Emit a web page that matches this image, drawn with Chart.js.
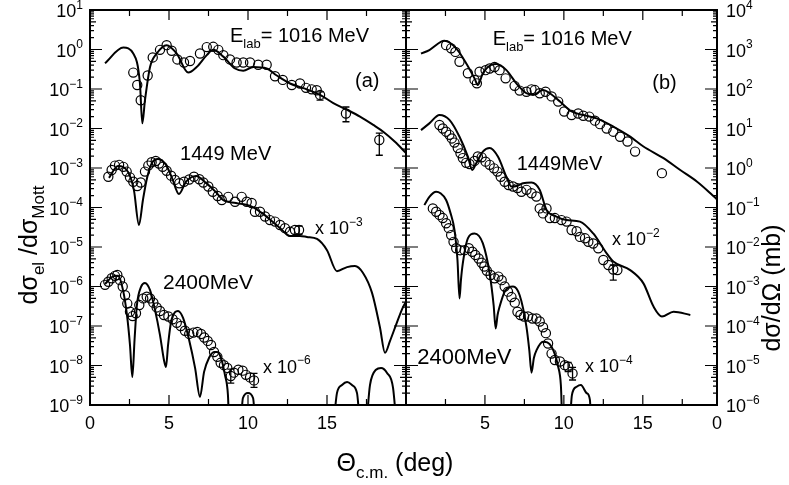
<!DOCTYPE html>
<html>
<head>
<meta charset="utf-8">
<script src="https://cdn.jsdelivr.net/npm/chart.js@4.4.1/dist/chart.umd.min.js"></script>
<style>
  html, body { margin: 0; padding: 0; background: #fff; }
  #wrap { position: relative; width: 789px; height: 485px; }
  #wrap canvas { position: absolute; left: 0; top: 0; }
</style>
</head>
<body>
<div id="wrap">
  <canvas id="chartA" width="789" height="485"></canvas>
  <canvas id="chartB" width="789" height="485"></canvas>
</div>
<script>
// ---- panel (a): dsigma_el / dsigma_Mott ----
const thetaA1016c = [0.95, 2.11, 2.74, 3.16, 3.31, 3.48, 3.8, 4.22, 4.85, 5.49, 6.22, 6.75, 7.39, 7.8, 8.44, 9.18, 9.7, 10.34, 11.18, 11.82, 12.66, 13.5, 14.56, 15.4, 16.25, 17.09, 17.93, 18.56, 19.3, 20];
const curveA1016 = [0.45, 1.12, 0.79, 0.14, 0.0135, 0.052, 0.36, 0.79, 1.29, 0.79, 0.26, 0.36, 0.72, 0.98, 0.66, 0.33, 0.29, 0.36, 0.33, 0.22, 0.138, 0.105, 0.071, 0.044, 0.03, 0.02, 0.0123, 0.0083, 0.0046, 0.0024];
const thetaA1016d = [2.74, 2.99, 3.21, 3.65, 3.97, 4.43, 4.85, 5.17, 5.53, 5.95, 6.33, 6.96, 7.39, 7.8, 8.12, 8.44, 8.86, 9.28, 9.7, 10.13, 10.65, 11.18, 11.71, 12.2, 12.77, 13.29, 13.67, 14.03, 14.35, 14.56, 16.2, 18.31];
const dataA1016 = [0.26, 0.126, 0.052, 0.22, 0.63, 0.98, 1.29, 0.93, 0.56, 0.47, 0.51, 0.79, 1.15, 1.17, 0.98, 0.72, 0.56, 0.47, 0.47, 0.47, 0.41, 0.41, 0.21, 0.17, 0.126, 0.138, 0.107, 0.098, 0.093, 0.071, 0.024, 0.0051];

const thetaA1449c = [1.2, 1.77, 2.41, 2.78, 3.1, 3.35, 3.61, 3.92, 4.3, 4.81, 5.19, 5.63, 6.08, 6.71, 7.34, 7.97, 8.42, 9.24, 10.13, 10.89, 11.58, 12.15, 12.66, 13.29, 13.73, 14.37, 15.0, 15.63, 16.27, 16.77, 17.28, 17.85, 18.35, 18.67, 18.99, 19.37, 19.81, 20];
const curveA1449 = [5.6e-4, 1.12e-3, 7.9e-4, 2.75e-4, 3.6e-5, 1.55e-4, 5.6e-4, 1.35e-3, 1.7e-3, 1.2e-3, 5.6e-4, 2.2e-4, 4.5e-4, 6.3e-4, 4.2e-4, 2.45e-4, 1.55e-4, 1.3e-4, 1.1e-4, 7.2e-5, 4.3e-5, 2.7e-5, 1.9e-5, 1.9e-5, 1.8e-5, 1.6e-5, 8.3e-6, 2.45e-6, 3.1e-6, 3.3e-6, 2.2e-6, 6.9e-7, 9.3e-8, 2.1e-8, 4.2e-8, 1.07e-7, 3.0e-7, 4.1e-7];
const thetaA1449d = [1.16, 1.37, 1.58, 1.84, 2.11, 2.32, 2.53, 2.74, 2.99, 3.21, 3.48, 3.69, 3.9, 4.16, 4.37, 4.6, 4.85, 5.13, 5.38, 5.65, 5.95, 6.28, 6.58, 6.92, 7.17, 7.49, 7.77, 8.08, 8.34, 8.75, 9.18, 9.6, 9.92, 10.23, 10.44, 10.76, 11.08, 11.39, 11.71, 12.03, 12.34, 12.66, 12.97, 13.23];
const dataA1449 = [6.0e-4, 8.9e-4, 1.15e-3, 1.2e-3, 1.07e-3, 8.1e-4, 5.8e-4, 4.5e-4, 3.5e-4, 4.3e-4, 8.1e-4, 1.15e-3, 1.4e-3, 1.5e-3, 1.3e-3, 1.07e-3, 8.5e-4, 6.4e-4, 5.0e-4, 4.1e-4, 4.5e-4, 5.1e-4, 6.0e-4, 5.2e-4, 4.3e-4, 3.4e-4, 2.5e-4, 1.95e-4, 1.55e-4, 1.86e-4, 1.4e-4, 1.86e-4, 1.4e-4, 1.3e-4, 7.8e-5, 7.8e-5, 5.9e-5, 4.8e-5, 4.4e-5, 3.6e-5, 3.0e-5, 2.45e-5, 2.7e-5, 2.7e-5];

const thetaA2400c = [0.95, 1.39, 1.77, 2.09, 2.34, 2.53, 2.68, 2.82, 2.97, 3.23, 3.48, 3.8, 4.11, 4.43, 4.68, 4.81, 4.94, 5.13, 5.38, 5.57, 5.89, 6.27, 6.65, 6.96, 7.22, 7.53, 7.85, 8.04, 8.29, 8.54, 8.73, 8.86, 9.43, 9.68, 10.0, 10.32, 10.57, 15.25, 15.63, 15.95, 16.27, 16.58, 16.9, 17.22, 17.34, 17.72, 18.1, 18.42, 18.8, 19.18, 19.49];
const curveA2400 = [1.15e-6, 1.74e-6, 1.86e-6, 8.1e-7, 1.9e-7, 3.3e-8, 5.1e-9, 4.5e-8, 3.4e-7, 9.8e-7, 1.23e-6, 8.1e-7, 2.6e-7, 5.9e-8, 1.38e-8, 9.1e-9, 3.3e-8, 1.26e-7, 2.24e-7, 2.4e-7, 1.6e-7, 4.5e-8, 8.7e-9, 1.6e-9, 6.9e-9, 1.55e-8, 2.2e-8, 2.2e-8, 1.55e-8, 5.8e-9, 1.8e-9, 1e-10, 1e-10, 1.5e-9, 2.0e-9, 1.5e-9, 1e-10, 1e-10, 2.0e-9, 3.2e-9, 3.8e-9, 3.2e-9, 2.0e-9, 1e-10, 1e-10, 3.2e-9, 7.8e-9, 8.7e-9, 6.5e-9, 2.7e-9, 1e-10];
const thetaA2400d = [0.95, 1.16, 1.37, 1.58, 1.73, 1.9, 2.07, 2.22, 2.36, 2.53, 2.7, 2.91, 3.12, 3.37, 3.59, 3.8, 4.01, 4.22, 4.43, 4.68, 4.96, 5.23, 5.49, 5.74, 6.01, 6.28, 6.54, 6.79, 7.03, 7.23, 7.45, 7.66, 7.85, 8.06, 8.27, 8.48, 8.69, 8.91, 9.11, 9.39, 9.66, 9.87, 10.13, 10.38];
const dataA2400 = [1.1e-6, 1.32e-6, 1.62e-6, 1.86e-6, 1.95e-6, 1.45e-6, 1.0e-6, 6.0e-7, 3.7e-7, 2.3e-7, 1.78e-7, 2.1e-7, 3.4e-7, 5.0e-7, 5.5e-7, 5.0e-7, 3.9e-7, 2.95e-7, 2.4e-7, 1.9e-7, 1.74e-7, 1.48e-7, 1.2e-7, 1.0e-7, 7.6e-8, 6.3e-8, 6.8e-8, 7.1e-8, 6.3e-8, 5.1e-8, 4.2e-8, 3.3e-8, 2.2e-8, 1.66e-8, 1.17e-8, 1.02e-8, 8.7e-9, 5.4e-9, 6.6e-9, 7.8e-9, 7.4e-9, 5.8e-9, 5.0e-9, 4.2e-9];

// error bars of panel (a)
const errThetaA = [14.56, 16.2, 18.31, 13.23, 8.91, 10.38];
const errLoA = [0.052, 0.0148, 0.0021, 2.1e-5, 3.6e-9, 2.8e-9];
const errHiA = [0.085, 0.035, 0.0076, 3.4e-5, 8.1e-9, 6.3e-9];

// ---- panel (b): dsigma/dOmega (mb) ----
const thetaB1016c = [0.95, 1.48, 2.23, 2.43, 3.18, 3.81, 4.34, 4.55, 4.87, 5.4, 5.72, 6.36, 6.99, 7.63, 8.05, 8.68, 9.11, 9.75, 10.49, 11.23, 12.08, 13.13, 14.2, 15.04, 16.31, 17.37, 18.44, 19.28, 19.7];
const curveB1016 = [790, 970, 1580, 1660, 1070, 450, 186, 126, 250, 410, 430, 300, 139, 78, 71, 94, 78, 48, 27, 22, 18, 11.2, 6.2, 3.5, 1.78, 0.89, 0.45, 0.23, 0.16];
const thetaB1016d = [2.54, 2.86, 3.13, 3.39, 3.92, 4.34, 4.49, 4.66, 5.04, 5.3, 5.61, 5.93, 6.31, 6.88, 7.2, 7.63, 7.95, 8.16, 8.47, 8.84, 9.22, 9.64, 10.02, 10.49, 10.91, 11.23, 11.61, 11.97, 12.29, 12.71, 13.13, 13.56, 14.03, 14.51, 16.21];
const dataB1016 = [1290, 1070, 870, 490, 250, 170, 139, 275, 300, 330, 360, 300, 186, 120, 91, 85, 98, 94, 78, 85, 65, 48, 27, 22, 24, 21, 20, 15.8, 12.9, 10, 8.3, 6.2, 4.7, 2.6, 0.74];

const thetaB1449c = [0.95, 1.48, 2.12, 2.75, 3.39, 3.92, 4.2, 4.45, 4.87, 5.3, 5.82, 6.36, 6.68, 7.01, 7.41, 7.95, 8.47, 8.9, 9.49, 10.17, 11.02, 11.86, 12.71, 13.13, 14.2, 15.04, 15.68, 16.21, 16.95, 18.01];
const curveB1449 = [9.1, 13.5, 22, 16.6, 6.2, 1.95, 0.89, 1.32, 2.6, 3.2, 1.95, 0.6, 0.34, 0.35, 0.41, 0.43, 0.28, 0.087, 0.06, 0.048, 0.044, 0.022, 0.0069, 0.0043, 0.0026, 0.0012, 3.1e-4, 1.74e-4, 2.3e-4, 1.9e-4];
const thetaB1449d = [2.12, 2.33, 2.54, 2.75, 2.9, 3.07, 3.28, 3.45, 3.6, 3.81, 4.02, 4.34, 4.55, 4.79, 5.04, 5.3, 5.57, 5.79, 6.0, 6.25, 6.5, 6.78, 7.06, 7.31, 7.63, 7.95, 8.26, 8.47, 8.68, 8.9, 9.11, 9.43, 9.85, 10.17, 10.49, 10.81, 11.02, 11.34, 11.55, 11.86, 12.18, 12.5, 12.82, 13.13, 13.39];
const dataB1449 = [12.3, 10, 8.3, 6.9, 5.6, 4.4, 3.2, 2.35, 1.78, 1.35, 1.26, 1.51, 1.95, 1.86, 1.45, 1.2, 0.98, 0.81, 0.6, 0.45, 0.37, 0.34, 0.31, 0.25, 0.28, 0.23, 0.19, 0.095, 0.071, 0.095, 0.054, 0.054, 0.048, 0.044, 0.027, 0.025, 0.018, 0.0166, 0.0135, 0.0123, 0.0093, 0.0047, 0.0035, 0.0027, 0.0026];

const thetaB2400c = [1.16, 1.48, 1.91, 2.18, 2.54, 2.82, 3.07, 3.26, 3.39, 3.48, 3.6, 3.92, 4.34, 4.87, 5.3, 5.55, 5.68, 5.8, 5.93, 6.25, 6.78, 7.2, 7.63, 7.81, 7.95, 8.1, 8.27, 8.68, 9.22, 9.64, 9.81, 9.96, 10.27, 10.51, 10.81, 11.08, 11.44, 11.65, 11.76];
const curveB2400 = [0.115, 0.186, 0.25, 0.23, 0.155, 0.072, 0.027, 0.0047, 5.0e-4, 0.00145, 0.0039, 0.0166, 0.022, 0.0123, 0.0021, 3.4e-4, 8.7e-5, 1.9e-4, 3.1e-4, 7.4e-4, 0.001, 6.0e-4, 9.5e-5, 2.45e-5, 6.6e-6, 1.55e-5, 2.45e-5, 4.0e-5, 3.0e-5, 9.3e-6, 3.2e-6, 1e-7, 1e-7, 1.78e-6, 2.9e-6, 3.2e-6, 2.0e-6, 1.35e-6, 1e-7];
const thetaB2400d = [1.7, 1.91, 2.12, 2.33, 2.54, 2.71, 2.86, 3.01, 3.18, 3.43, 3.71, 3.98, 4.2, 4.39, 4.6, 4.79, 4.96, 5.12, 5.36, 5.61, 5.85, 6.06, 6.25, 6.46, 6.68, 6.89, 7.06, 7.25, 7.48, 7.73, 8.01, 8.26, 8.47, 8.68, 8.86, 9.0, 9.22, 9.43, 9.75, 10.06, 10.27, 10.55];
const dataB2400 = [0.095, 0.078, 0.065, 0.054, 0.04, 0.03, 0.02, 0.0135, 0.0093, 0.0083, 0.0083, 0.0093, 0.0076, 0.0063, 0.0051, 0.004, 0.0032, 0.0025, 0.00195, 0.00162, 0.00178, 0.00145, 0.001, 7.4e-4, 5.4e-4, 3.9e-4, 2.3e-4, 1.9e-4, 1.74e-4, 1.74e-4, 1.55e-4, 1.55e-4, 1.3e-4, 9.3e-5, 6.6e-5, 3.6e-5, 2.0e-5, 1.38e-5, 1.26e-5, 1.02e-5, 9.3e-6, 6.3e-6];

const errThetaB = [13.13, 10.27, 10.55];
const errLoB = [0.00145, 7.0e-6, 4.3e-6];
const errHiB = [0.0035, 1.2e-5, 9.0e-6];

// axis tick labels
const yExpA = [1, 0, -1, -2, -3, -4, -5, -6, -7, -8, -9];
const yExpB = [4, 3, 2, 1, 0, -1, -2, -3, -4, -5, -6];
const xTickValsA = [0, 5, 10, 15];
const xTickTextA = ['0', '5', '10', '15'];
const xTickValsB = [5, 10, 15, 19.7];
const xTickTextB = ['5', '10', '15', '0'];

const FONT = '"Liberation Sans", Arial, sans-serif';

// draws text pieces with sub/superscripts; parts = [[text, ''|'sup'|'sub'], ...]
function drawRich(ctx, parts, x, y, size, align) {
    const small = Math.round(size * 0.66);
    let w = 0;
    parts.forEach(p => {
        ctx.font = (p[1] ? small : size) + 'px ' + FONT;
        w += ctx.measureText(p[0]).width;
    });
    let cx = align === 'right' ? x - w : (align === 'center' ? x - w / 2 : x);
    ctx.textAlign = 'left';
    ctx.textBaseline = 'alphabetic';
    parts.forEach(p => {
        ctx.font = (p[1] ? small : size) + 'px ' + FONT;
        const dy = p[1] === 'sup' ? -size * 0.45 : (p[1] === 'sub' ? size * 0.28 : 0);
        ctx.fillText(p[0], cx, y + dy);
        cx += ctx.measureText(p[0]).width;
    });
}

function expText(e) { return e < 0 ? '\u2212' + Math.abs(e) : String(e); }

const panelFrame = {
    id: 'panelFrame',
    beforeDatasetsDraw(chart, args, opts) {
        // error bars
        const { ctx, scales: { x, y } } = chart;
        ctx.save();
        ctx.strokeStyle = '#000';
        ctx.lineWidth = 1.3;
        ctx.beginPath();
        opts.errTheta.forEach((t, i) => {
            const px = x.getPixelForValue(t);
            const lo = y.getPixelForValue(opts.errLo[i]);
            const hi = y.getPixelForValue(opts.errHi[i]);
            ctx.moveTo(px, hi); ctx.lineTo(px, lo);
            ctx.moveTo(px - 3.5, hi); ctx.lineTo(px + 3.5, hi);
            ctx.moveTo(px - 3.5, lo); ctx.lineTo(px + 3.5, lo);
        });
        ctx.stroke();
        ctx.restore();
    },
    afterDatasetsDraw(chart, args, opts) {
        const { ctx, chartArea: a, scales: { x, y } } = chart;
        ctx.save();
        ctx.strokeStyle = '#000';
        ctx.lineWidth = 2;
        ctx.strokeRect(a.left, a.top, a.right - a.left, a.bottom - a.top);

        // log ticks on both vertical sides, pointing inwards
        ctx.lineWidth = 1.2;
        ctx.beginPath();
        const e0 = Math.round(Math.log10(y.min)), e1 = Math.round(Math.log10(y.max));
        for (let e = e0; e <= e1; e++) {
            for (let m = 1; m < 10; m++) {
                const v = m * Math.pow(10, e);
                if (v > y.max * 1.001) break;
                const py = y.getPixelForValue(v);
                const len = m === 1 ? 12 : (m === 5 ? 6 : 4);
                ctx.moveTo(a.left, py); ctx.lineTo(a.left + len, py);
                ctx.moveTo(a.right, py); ctx.lineTo(a.right - len, py);
            }
        }
        for (let t = 2.5; t < x.max - 0.1; t += 2.5) {
            const px = x.getPixelForValue(t);
            const len = t % 5 === 0 ? 10 : 6;
            ctx.moveTo(px, a.bottom); ctx.lineTo(px, a.bottom - len);
            ctx.moveTo(px, a.top); ctx.lineTo(px, a.top + len);
        }
        ctx.stroke();

        // tick labels
        ctx.fillStyle = '#000';
        opts.yExp.forEach(e => {
            const py = y.getPixelForValue(Math.pow(10, e));
            if (opts.side === 'left') {
                drawRich(ctx, [['10', ''], [expText(e), 'sup']], a.left - 7, py + 7, 18, 'right');
            } else {
                drawRich(ctx, [['10', ''], [expText(e), 'sup']], a.right + 9, py + 7, 18, 'left');
            }
        });
        opts.xVals.forEach((v, i) => {
            drawRich(ctx, [[opts.xText[i], '']], x.getPixelForValue(v), a.bottom + 24, 18, 'center');
        });

        // annotations placed in data coordinates
        opts.notes.forEach(n => {
            drawRich(ctx, n.parts, x.getPixelForValue(n.x), y.getPixelForValue(n.y) + 7, n.size, 'left');
        });

        // axis titles
        (opts.titles || []).forEach(tt => {
            ctx.save();
            ctx.translate(tt.cx, tt.cy);
            if (tt.rot) ctx.rotate(-Math.PI / 2);
            drawRich(ctx, tt.parts, 0, 9, tt.size, 'center');
            ctx.restore();
        });
        ctx.restore();
    }
};

function curve(th, vals) {
    return {
        type: 'line',
        data: th.map((t, i) => ({ x: t, y: vals[i] })),
        borderColor: '#000',
        borderWidth: 2,
        pointRadius: 0,
        fill: false,
        showLine: true,
        cubicInterpolationMode: 'monotone',
        clip: 0
    };
}

function points(th, vals) {
    return {
        type: 'scatter',
        data: th.map((t, i) => ({ x: t, y: vals[i] })),
        pointStyle: 'circle',
        pointRadius: 4.6,
        borderColor: '#000',
        borderWidth: 1.2,
        backgroundColor: 'rgba(0,0,0,0)',
        showLine: false
    };
}

function panelOptions(xMax, yMin, yMax, pad, frame) {
    return {
        responsive: false,
        animation: false,
        devicePixelRatio: 1,
        layout: { padding: pad },
        plugins: { legend: { display: false }, tooltip: { enabled: false }, panelFrame: frame },
        scales: {
            x: { type: 'linear', min: 0, max: xMax, display: false },
            y: { type: 'logarithmic', min: yMin, max: yMax, display: false }
        }
    };
}

new Chart(document.getElementById('chartA'), {
    type: 'scatter',
    data: {
        datasets: [
            curve(thetaA1016c, curveA1016), points(thetaA1016d, dataA1016),
            curve(thetaA1449c, curveA1449), points(thetaA1449d, dataA1449),
            curve(thetaA2400c, curveA2400), points(thetaA2400d, dataA2400)
        ]
    },
    options: panelOptions(20, 1e-9, 10, { left: 90, right: 383, top: 10, bottom: 80 }, {
        side: 'left', yExp: yExpA, xVals: xTickValsA, xText: xTickTextA,
        errTheta: errThetaA, errLo: errLoA, errHi: errHiA,
        notes: [
            { x: 8.86, y: 2.3, size: 20, parts: [['E', ''], ['lab', 'sub'], ['= 1016 MeV', '']] },
            { x: 16.77, y: 0.17, size: 20, parts: [['(a)', '']] },
            { x: 5.7, y: 2.4e-3, size: 20, parts: [['1449 MeV', '']] },
            { x: 14.24, y: 3.2e-5, size: 18, parts: [['x 10', ''], ['\u22123', 'sup']] },
            { x: 4.62, y: 1.3e-6, size: 21, parts: [['2400MeV', '']] },
            { x: 10.95, y: 1.0e-8, size: 18, parts: [['x 10', ''], ['\u22126', 'sup']] }
        ],
        titles: [
            { cx: 28, cy: 245, rot: true, size: 25, parts: [['d\u03c3', ''], ['el', 'sub'], [' /d\u03c3', ''], ['Mott', 'sub']] },
            { cx: 395, cy: 462, rot: false, size: 25, parts: [['\u0398', ''], ['c.m.', 'sub'], [' (deg)', '']] }
        ]
    }),
    plugins: [panelFrame]
});

new Chart(document.getElementById('chartB'), {
    type: 'scatter',
    data: {
        datasets: [
            curve(thetaB1016c, curveB1016), points(thetaB1016d, dataB1016),
            curve(thetaB1449c, curveB1449), points(thetaB1449d, dataB1449),
            curve(thetaB2400c, curveB2400), points(thetaB2400d, dataB2400)
        ]
    },
    options: panelOptions(19.7, 1e-6, 1e4, { left: 406, right: 72, top: 10, bottom: 80 }, {
        side: 'right', yExp: yExpB, xVals: xTickValsB, xText: xTickTextB,
        errTheta: errThetaB, errLo: errLoB, errHi: errHiB,
        notes: [
            { x: 5.49, y: 1950, size: 20, parts: [['E', ''], ['lab', 'sub'], ['= 1016 MeV', '']] },
            { x: 15.6, y: 150, size: 20, parts: [['(b)', '']] },
            { x: 7.01, y: 1.35, size: 20, parts: [['1449MeV', '']] },
            { x: 13.05, y: 0.017, size: 18, parts: [['x 10', ''], ['\u22122', 'sup']] },
            { x: 0.72, y: 1.66e-5, size: 22, parts: [['2400MeV', '']] },
            { x: 11.34, y: 1.02e-5, size: 18, parts: [['x 10', ''], ['\u22124', 'sup']] }
        ],
        titles: [
            { cx: 771, cy: 288, rot: true, size: 25, parts: [['d\u03c3/d\u03a9 (mb)', '']] }
        ]
    }),
    plugins: [panelFrame]
});
</script>
</body>
</html>
